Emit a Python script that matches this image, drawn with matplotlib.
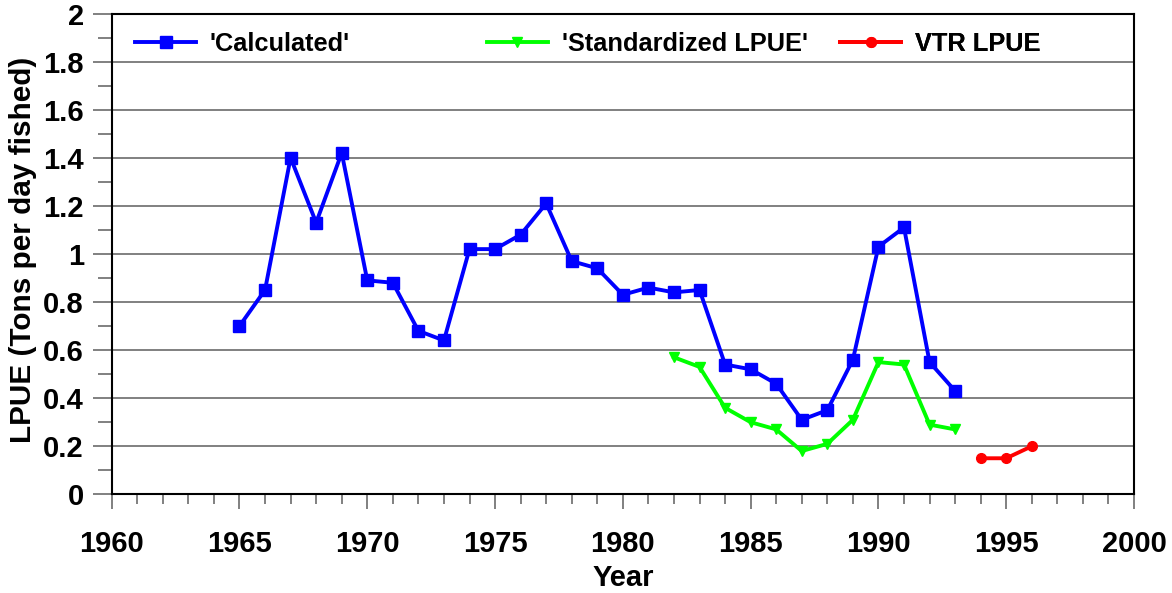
import matplotlib
matplotlib.use("Agg")
import matplotlib.pyplot as plt
from matplotlib.ticker import MultipleLocator

plt.rcParams['font.family'] = ['Liberation Sans', 'DejaVu Sans']
plt.rcParams['font.weight'] = 'bold'

calc_years = list(range(1965, 1994))
calc_vals = [0.70, 0.85, 1.40, 1.13, 1.42, 0.89, 0.88, 0.68, 0.64, 1.02,
             1.02, 1.08, 1.21, 0.97, 0.94, 0.83, 0.86, 0.84, 0.85, 0.54,
             0.52, 0.46, 0.31, 0.35, 0.56, 1.03, 1.11, 0.55, 0.43]
std_years = list(range(1982, 1994))
std_vals = [0.57, 0.53, 0.36, 0.30, 0.27, 0.18, 0.21, 0.31, 0.55, 0.54, 0.29, 0.27]
vtr_years = [1994, 1995, 1996]
vtr_vals = [0.15, 0.15, 0.20]

labels = ["'Calculated'", "'Standardized LPUE'", "VTR LPUE"]
x_ticks = [1960, 1965, 1970, 1975, 1980, 1985, 1990, 1995, 2000]

fig = plt.figure(figsize=(11.72, 5.93), dpi=100)
ax = fig.add_axes([0.0953, 0.1664, 0.9676 - 0.0953, 0.9772 - 0.1664])

l1, = ax.plot(calc_years, calc_vals, color='#0000FF', lw=2.8, marker='s', ms=8.5,
              label=labels[0], zorder=3)
l2, = ax.plot(std_years, std_vals, color='#00FF00', lw=2.8, marker='v', ms=7,
              label=labels[1], zorder=3)
l3, = ax.plot(vtr_years, vtr_vals, color='#FF0000', lw=2.8, marker='o', ms=7,
              label=labels[2], zorder=3)

ax.set_xlim(1960, 2000)
ax.set_ylim(0, 2)
ax.set_xticks(x_ticks)
ax.xaxis.set_minor_locator(MultipleLocator(1))
ax.yaxis.set_major_locator(MultipleLocator(0.2))
ax.yaxis.set_minor_locator(MultipleLocator(0.1))
ax.yaxis.set_major_formatter(plt.FuncFormatter(lambda v, p: ('%g' % round(v, 1))))

ax.grid(axis='y', which='major', color='#808080', lw=1.4, zorder=1)
ax.tick_params(axis='both', which='major', direction='out', color='#808080',
               width=1.4, labelsize=21)
ax.tick_params(axis='x', which='major', length=11, pad=15)
ax.tick_params(axis='y', which='major', length=14, pad=6)
ax.tick_params(axis='x', which='minor', direction='out', color='#808080',
               width=1.4, length=7)
ax.tick_params(axis='y', which='minor', direction='out', color='#808080',
               width=1.4, length=10)
for lab in ax.get_xticklabels() + ax.get_yticklabels():
    lab.set_fontweight('bold')
for s in ax.spines.values():
    s.set_color('black')
    s.set_linewidth(1.5)

ax.set_xlabel('Year', fontsize=21, fontweight='bold', labelpad=4)
ax.set_ylabel('LPUE (Tons per day fished)', fontsize=21.4, fontweight='bold', labelpad=4.5)
ax.yaxis.label.set_y(0.508)

for handle, lab, xpos in zip([l1, l2, l3], labels, [0.0228, 0.367, 0.7124]):
    lg = ax.legend([handle], [lab], loc='center left', frameon=False,
                   bbox_to_anchor=(xpos, 0.937), borderpad=0, borderaxespad=0,
                   handlelength=2.4, handletextpad=0.55,
                   prop={'weight': 'bold', 'size': 18.3})
    ax.add_artist(lg)

fig.savefig('out.png', dpi=100)
